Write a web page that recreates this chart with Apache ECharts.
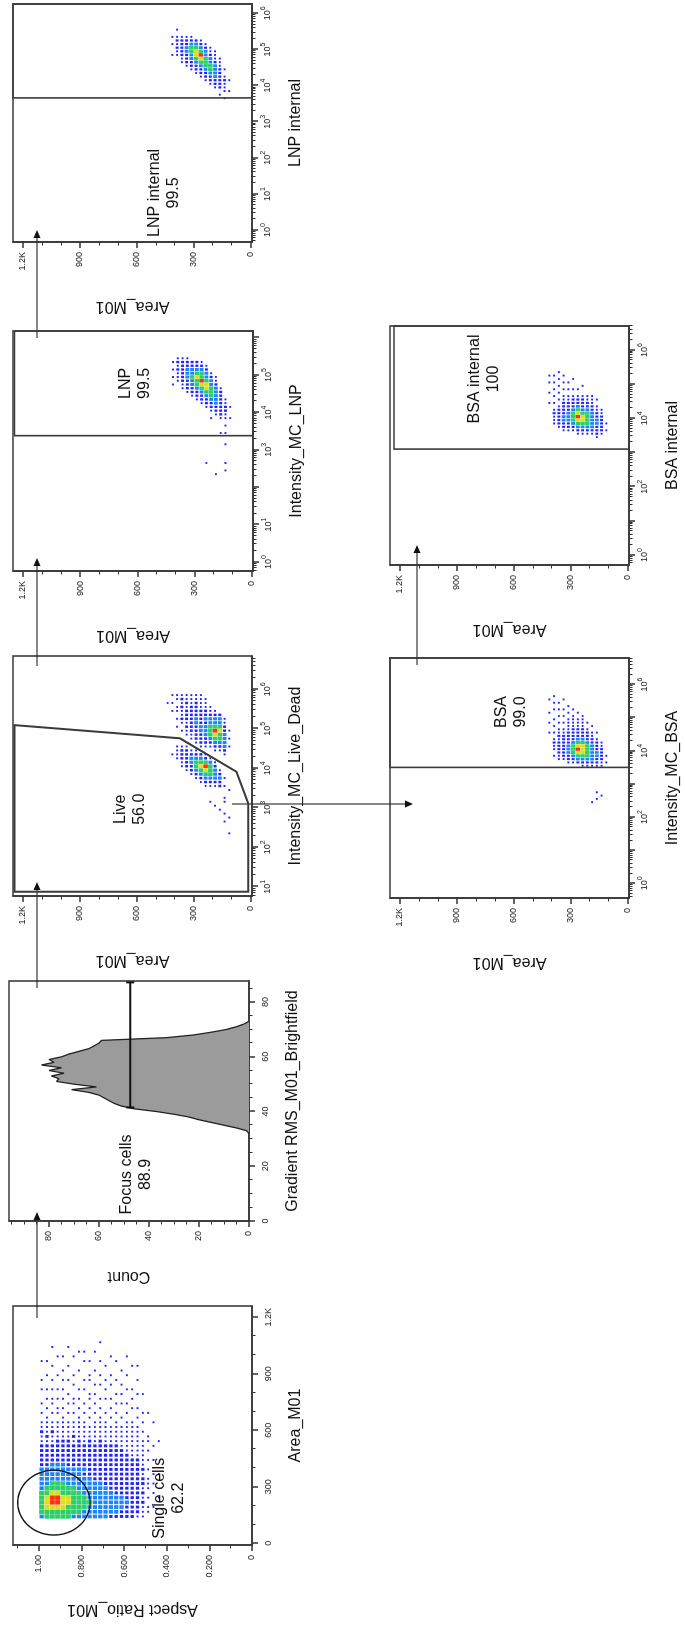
<!DOCTYPE html>
<html>
<head>
<meta charset="utf-8">
<title>Gating strategy</title>
<script src="https://cdn.jsdelivr.net/npm/echarts@6.0.0/dist/echarts.min.js"></script>
<style>
html, body { margin:0; padding:0; background:#ffffff; }
body { width:685px; height:1627px; overflow:hidden; position:relative; }
#chart { position:absolute; left:0; top:0; width:1627px; height:685px; transform-origin:0 0; transform:translate(0px,1627px) rotate(-90deg); background:#ffffff; }
</style>
</head>
<body>
<div id="chart"></div>
<script>
const FONT = '"Liberation Sans", Arial, Helvetica, sans-serif';

// ---------------- axis tick values ----------------
const areaLabels = [0, 300, 600, 900, 1200];
const areaMinor = [100, 200, 400, 500, 700, 800, 1000, 1100];
const aspectLabels = [0, 0.2, 0.4, 0.6, 0.8, 1.0];
const aspectMinor = [0.1, 0.3, 0.5, 0.7, 0.9, 1.1];
const gradLabels = [0, 20, 40, 60, 80];
const gradMinor = [5, 10, 15, 25, 30, 35, 45, 50, 55, 65, 70, 75, 85];
const countLabels = [0, 20, 40, 60, 80];
const countMinor = [5, 10, 15, 25, 30, 35, 45, 50, 55, 65, 70, 75, 85, 90, 95];
const liveDecades = [1, 2, 3, 4, 5, 6];
const liveDecadeLabels = [1, 2, 3, 4, 5, 6];
const lnpDecades = [0, 1, 2, 3, 4, 5, 6];
const lnpDecadeLabels = [0, 1, 3, 4, 5];
const lnpIntDecades = [0, 1, 2, 3, 4, 5, 6];
const lnpIntDecadeLabels = [0, 1, 2, 3, 4, 5, 6];
const bsaDecades = [0, 1, 2, 3, 4, 5, 6];
const bsaDecadeLabels = [0, 2, 4, 6];
const bsaIntDecades = [0, 1, 2, 3, 4, 5, 6];
const bsaIntDecadeLabels = [0, 2, 4, 6];

// ---------------- histogram (Gradient RMS_M01_Brightfield) ----------------
const gradientX = [32,33,34,35,36,37,38,39,40,41,42,43,44,45,46,47,48,49,50,51,52,53,54,55,56,57,58,59,60,61,62,63,64,65,66,67,68,69,70,71,72,73];
const gradientCount = [0,1,5,10,15,20,24,30,37,46,51,54,56,58,60,64,71,61,70,77,76,79,74,80,75,83,78,80,75,72,68,64,62,60,59,33,22,15,9,5,2,0];

// ---------------- gates (data coordinates) ----------------
const singleCellsCenter = [216, 0.93];
const singleCellsRadius = [172, 0.17];
const focusGateX = [41.5, 87.2];
const focusGateCount = 47.5;
const liveGate = [[0.873,1244],[5.09,1244],[4.757,373],[3.91,75],[3.11,12.7],[0.873,12.7]];
const lnpGate = [[3.38,-7],[6.18,-7],[6.18,1244],[3.38,1244]];
const lnpIntGate = [[3.66,-7],[6.26,-7],[6.26,1252],[3.66,1252]];
const bsaGate = [[3.50,-7],[6.80,-7],[6.80,1252],[3.50,1252]];
const bsaIntGate = [[3.10,-7],[6.70,-7],[6.70,1231],[3.10,1231]];

// gate labels
const gateLabelText = ['Single cells\n62.2','Focus cells\n88.9','Live\n56.0','LNP\n99.5','LNP internal\n99.5','BSA\n99.0','BSA internal\n100'];
const gateLabelX = [239, 17, 2.96, 4.78, 1.03, 5.17, 5.15];
const gateLabelY = [0.39, 45, 637, 610, 457, 615, 755];

// ---------------- density (levels 1..6) ----------------
// Single cells: columns Area 130..1130 step 25, rows Aspect 1.0 down step 0.025
const densSingle = [
"3444443333 3222221121 1.1.1..1.1 ...1......",
"4455544333 3222221211 11.1.1.1.. 1..1......",
"4456654433 3322221121 1.1.11.1.1 ..1...1...",
"4456654433 3322222111 1.11.1.1.. 1...1.....",
"4455544433 3322222111 11.1.1.1.1 .1..1.....",
"4445544333 3222222111 1.1.1.1..1 ..1...1...",
"3444444333 3222221211 1.1.11..1. 1...1.....",
"3444443333 3222222111 11.1.1.1.. .1...1....",
"3344433332 3222221111 1.1.1..1.1 ...1.1....",
"3334333332 2222222111 .1.1.11..1 1..1......",
"3333333322 2222221111 1.1.1.1.1. .1...1....",
"3333333322 2222222111 11.1.1..1. 1..1...1..",
"3333333222 2222221111 1.1..1.1.1 ..1.......",
"2333332222 2222221111 .1.1.1..1. 1...1.....",
"2333322222 2222221111 1.1.1.1..1 ...1......",
"2233322222 2222211111 .1..1.1.1. .1........",
"2223222222 2222111111 1.1.1..1.. 1...1.....",
"2222222222 2221111111 1..1.1.1.. ..1.......",
"1222222222 2221111111 .1.1..1..1 ..1.......",
"1112121221 2111111.1. 1.1...1... ..........",
".11.1.111. 1.1.1.11.. ..1....... ..........",
"..1..1.1.1 ..1..1.... 1......... ..........",
"....1....1 ......1... .......... .........."
];
// Live/Dead: columns log10 2.2..5.9 step 0.1, rows Area 450 down step 25
const densLive = [
".......... .......... .......... ....1..",
".......... .......... .1........ ..1.1.1",
".......... .......... 1111....1. 1.11.11",
".......... ........11 2221...1.1 2112121",
".......... .......122 2221..1121 2221211",
".......... ......1223 321..11222 2222111",
".......... .....12344 321.122223 3222211",
".......... ....123454 32.1222332 2221111",
".......... ...1234564 21.1223332 322111.",
".........1 ...1234443 1..1234443 3211...",
"........1. ...1233321 ..12345643 321....",
".......1.. ...22321.. ..12344543 32.....",
"....1.1..1 1..1.1.... .123333221 1......",
".1...1.... ..1....... ...1.1.1.. ......."
];
// LNP / LNP internal / BSA / BSA internal: columns log10 2.0..6.0 step 0.1, rows Area 450 down step 25
const densLNP = [
".......... .......... .......... ..........",
".......... .......... .......1.1 .1.1......",
".......... .......... ........11 12121.....",
".......... .......... ......1122 22221.....",
".......... .......... .....12223 33221.....",
".......... .......... ....122334 3322......",
".......... .......... ...1223445 4322......",
".......... .......... ..12234564 4321......",
"......1... .......... .122345543 321.......",
".......... ........1. 1223444332 1.........",
"...1...... .........1 2233333211 ..........",
".......... ....1...12 2222221... ..........",
"....1.1... .1..1.1.11 2211...... ..........",
".......... ........1. .1........ .........."
];
const densLNPint = [
".......... .......... .......... ..........",
".......... .......... ........1. .1.1......",
".......... .......... ........11 2121.1....",
".......... .......... ......1122 2221......",
".......... .......... .....12223 3221......",
".......... .......... ....122334 4321......",
".......... .......... ...1223455 432.......",
".......... .......... ..12234564 321.......",
".......... .......... .122344433 21........",
".......... .......... 1223443321 1.........",
".......... .........1 2233332111 ..........",
".......... .......1.2 22222111.. ..........",
".......... ......1.11 121.1..... ..........",
".......... ........1. .1........ .........."
];
const densBSA = [
".......... .......... .......... ..........",
".......... .......... .....1..1. .1...1....",
".......... ........1. 1121.1.1.1 ..1.1.1...",
".......... .......112 2221211.1. 1.1.1.....",
".......... .......122 2222211.1. 1.1..1....",
".......... ......1223 3322221111 .1.1......",
".......... ......1234 4432222111 1.1.......",
".......... ......2345 6543222111 .1........",
".......... .....12345 5543222111 1.........",
".......... .....12344 4432221.1. ..........",
"....1..... .....12333 332211.1.. ..........",
".....1.1.. .....12233 2221.1.... ..........",
"......1... .....11222 211....... ..........",
".......... ......1.1. .......... .........."
];
const densBSAint = [
".......... .......... .......... ..........",
".......... .......... ....1..1.. 1.1.......",
".......... ........11 121.1.1.1. 1.1.......",
".......... .......122 2221.1.1.1 .1.1......",
".......... ......1223 3222211.1. 1.1.......",
".......... ......1223 3322211.1. 1.........",
".......... ......1234 4432221.1. .1........",
".......... .....12345 6543221.1. ..........",
".......... .....12345 5432221..1 ..........",
".......... .....12344 4432211... ..........",
".......... .....12333 3322111... ..........",
".......... ....122233 2211.1.... ..........",
".......... .....12222 211....... ..........",
".......... ......1.1. .......... .........."
];

// ---------------- layout (landscape frame, then rotated -90deg) ----------------
const levelColor = {1:'#2020ff', 2:'#2222ff', 3:'#1c84ff', 4:'#2ccf6a', 5:'#dede20', 6:'#ff3010'};

const grid = [], xAxis = [], yAxis = [], series = [];

function fmtArea(v){ return v === 1200 ? '1.2K' : String(v); }
function fmtAspect(v){ if (v === 0) return '0'; if (Math.abs(v-1) < 1e-9) return '1.00'; return v.toFixed(3); }
function fmtLog(v){ return '{b|10}{s|' + Math.round(v) + '}'; }
const logRich = {
  b: { fontFamily: FONT, fontSize: 9, color: '#222', verticalAlign: 'bottom' },
  s: { fontFamily: FONT, fontSize: 7, color: '#222', verticalAlign: 'bottom', padding: [0,0,5,0] }
};
function logMinor(decades, min, max){
  const out = [];
  for (let n = Math.floor(min) - 1; n <= Math.ceil(max); n++) {
    for (let k = 2; k <= 9; k++) { const v = n + Math.log10(k); if (v > min && v < max) out.push(v); }
  }
  return out;
}

function mainAxis(gi, pos, a){
  return {
    gridIndex: gi, type: 'value', position: pos, min: a.min, max: a.max,
    name: a.name, nameLocation: 'middle', nameGap: a.nameGap,
    nameTextStyle: { fontFamily: FONT, fontSize: 16, color: '#111' },
    axisLine: { show: true, onZero: false, lineStyle: { color: '#333', width: 1.5 } },
    axisTick: { show: true, inside: false, length: 6, customValues: a.major, lineStyle: { color: '#333', width: 1.5 } },
    axisLabel: { show: true, customValues: a.labels, formatter: a.fmt, fontFamily: FONT, fontSize: 9, color: '#222', margin: a.margin, rich: a.rich || {}, hideOverlap: false },
    splitLine: { show: false }, minorTick: { show: false }, minorSplitLine: { show: false }
  };
}
function minorAxis(gi, pos, a){
  return {
    gridIndex: gi, type: 'value', position: pos, min: a.min, max: a.max,
    axisLine: { show: false, onZero: false },
    axisTick: { show: true, inside: false, length: 3.5, customValues: a.minor, lineStyle: { color: '#333', width: 1 } },
    axisLabel: { show: false }, splitLine: { show: false }
  };
}
function addPanel(p){
  const gi = grid.length;
  grid.push({ left: p.box[0], top: p.box[1], width: p.box[2], height: p.box[3], show: true, borderColor: '#3c3c3c', borderWidth: 1.6 });
  const xi = xAxis.length, yi = yAxis.length;
  xAxis.push(mainAxis(gi, 'bottom', p.x)); xAxis.push(minorAxis(gi, 'bottom', p.x));
  yAxis.push(mainAxis(gi, 'left', p.y)); yAxis.push(minorAxis(gi, 'left', p.y));
  p.xi = xi; p.yi = yi;
  return p;
}
function areaAxis(){
  return { min: -7, max: 1252, name: 'Area_M01', nameGap: 56, major: areaLabels, labels: areaLabels, minor: areaMinor, fmt: fmtArea, margin: 10 };
}
function logAxis(name, min, max, decades, labels){
  return { min, max, name, nameGap: 36, major: decades, labels, minor: logMinor(decades, min, max), fmt: fmtLog, rich: logRich, margin: 8 };
}

const pSingle = addPanel({ box: [82, 13, 239, 239],
  x: { min: -9, max: 1260, name: 'Area_M01', nameGap: 36, major: areaLabels, labels: areaLabels, minor: areaMinor, fmt: fmtArea, margin: 12 },
  y: { min: 0, max: 1.122, name: 'Aspect Ratio_M01', nameGap: 56, major: aspectLabels, labels: aspectLabels, minor: aspectMinor, fmt: fmtAspect, margin: 10 } });
const pFocus = addPanel({ box: [406, 9, 240, 240],
  x: { min: 0, max: 87.7, name: 'Gradient RMS_M01_Brightfield', nameGap: 36, major: gradLabels, labels: gradLabels, minor: gradMinor, fmt: v => String(v), margin: 12 },
  y: { min: 0, max: 96, name: 'Count', nameGap: 47, major: countLabels, labels: countLabels, minor: countMinor, fmt: v => String(v), margin: 10 } });
const pLive = addPanel({ box: [731, 13, 240, 239], x: logAxis('Intensity_MC_Live_Dead', 0.765, 6.84, liveDecades, liveDecadeLabels), y: areaAxis() });
const pLNP = addPanel({ box: [1056, 13, 240, 240], x: logAxis('Intensity_MC_LNP', -0.24, 6.18, lnpDecades, lnpDecadeLabels), y: areaAxis() });
const pLNPint = addPanel({ box: [1385, 13, 238, 239], x: logAxis('LNP internal', -0.33, 6.26, lnpIntDecades, lnpIntDecadeLabels), y: areaAxis() });
const pBSA = addPanel({ box: [729, 390, 240, 239], x: logAxis('Intensity_MC_BSA', -0.44, 6.8, bsaDecades, bsaDecadeLabels), y: areaAxis() });
const pBSAint = addPanel({ box: [1062, 390, 239, 239], x: logAxis('BSA internal', -0.29, 6.7, bsaIntDecades, bsaIntDecadeLabels), y: areaAxis() });

// ---------- density dot series ----------
function addDensity(p, rows, x0, dx, yTop, dy){
  const cw = dx * p.box[2] / (p.x.max - p.x.min);
  const ch = dy * p.box[3] / (p.y.max - p.y.min);
  const byLevel = {};
  rows.forEach((raw, r) => {
    const row = raw.replace(/ /g, '');
    for (let c = 0; c < row.length; c++) {
      const ch0 = row[c]; if (ch0 === '.') continue;
      const lv = +ch0;
      (byLevel[lv] = byLevel[lv] || []).push([x0 + dx * (c + 0.5), yTop - dy * (r + 0.5)]);
    }
  });
  Object.keys(byLevel).forEach(k => {
    const lv = +k;
    const f = lv === 2 ? 0.62 : lv === 3 ? 0.8 : 0.95;
    const size = lv === 1 ? [1.9, 1.9] : [cw * f, ch * f];
    series.push({ type: 'scatter', xAxisIndex: p.xi, yAxisIndex: p.yi, data: byLevel[k], symbol: 'rect', symbolSize: size,
      itemStyle: { color: levelColor[lv], opacity: 1 }, silent: true, z: 2 + lv, animation: false });
  });
}
addDensity(pSingle, densSingle, 130, 25, 1.0, 0.025);
addDensity(pLive, densLive, 2.2, 0.1, 450, 25);
addDensity(pLNP, densLNP, 2.0, 0.1, 450, 25);
addDensity(pLNPint, densLNPint, 2.0, 0.1, 450, 25);
addDensity(pBSA, densBSA, 2.0, 0.1, 450, 25);
addDensity(pBSAint, densBSAint, 2.0, 0.1, 450, 25);

// ---------- histogram ----------
series.push({ type: 'line', xAxisIndex: pFocus.xi, yAxisIndex: pFocus.yi,
  data: gradientX.map((x, i) => [x, gradientCount[i]]), symbol: 'none', smooth: false,
  lineStyle: { color: '#222', width: 1.3 }, areaStyle: { color: '#9b9b9b', opacity: 1 }, silent: true, z: 3, animation: false });

// ---------- gates ----------
function polyGate(p, pts, color, width){
  series.push({ type: 'custom', xAxisIndex: p.xi, yAxisIndex: p.yi, data: [[0, 0]], silent: true, z: 10, animation: false,
    renderItem: (params, api) => ({ type: 'polygon', shape: { points: pts.map(q => api.coord(q)) },
      style: { fill: 'none', stroke: color, lineWidth: width } }) });
}
const ellipsePts = [];
for (let k = 0; k < 90; k++) {
  const t = 2 * Math.PI * k / 90;
  ellipsePts.push([singleCellsCenter[0] + singleCellsRadius[0] * Math.cos(t), singleCellsCenter[1] + singleCellsRadius[1] * Math.sin(t)]);
}
polyGate(pSingle, ellipsePts, '#151515', 1.4);
polyGate(pLive, liveGate, '#3a3a3a', 2);
polyGate(pLNP, lnpGate, '#3a3a3a', 1.6);
polyGate(pLNPint, lnpIntGate, '#3a3a3a', 1.6);
polyGate(pBSA, bsaGate, '#3a3a3a', 1.6);
polyGate(pBSAint, bsaIntGate, '#3a3a3a', 1.6);

series.push({ type: 'custom', xAxisIndex: pFocus.xi, yAxisIndex: pFocus.yi, data: [[0, 0]], silent: true, z: 10, animation: false,
  renderItem: (params, api) => {
    const a = api.coord([focusGateX[0], focusGateCount]);
    const b = api.coord([focusGateX[1], focusGateCount]);
    const st = { stroke: '#111', lineWidth: 2 };
    return { type: 'group', children: [
      { type: 'line', shape: { x1: a[0], y1: a[1], x2: b[0], y2: b[1] }, style: st },
      { type: 'line', shape: { x1: a[0], y1: a[1] - 4, x2: a[0], y2: a[1] + 4 }, style: st },
      { type: 'line', shape: { x1: b[0], y1: b[1] - 4, x2: b[0], y2: b[1] + 4 }, style: st }
    ] };
  } });

// ---------- gate labels ----------
[pSingle, pFocus, pLive, pLNP, pLNPint, pBSA, pBSAint].forEach((p, i) => {
  series.push({ type: 'scatter', xAxisIndex: p.xi, yAxisIndex: p.yi, silent: true, z: 12, animation: false,
    data: [{ value: [gateLabelX[i], gateLabelY[i]], name: gateLabelText[i] }], symbolSize: 1,
    itemStyle: { color: 'rgba(255,255,255,0)' },
    label: { show: true, position: 'inside', formatter: '{b}', fontFamily: FONT, fontSize: 16, lineHeight: 19, color: '#111', align: 'center', verticalAlign: 'middle', opacity: 1 } });
});

// ---------- connector arrows (landscape pixel layout) ----------
const arrowPaths = [[309,37,415,37],[639,37,745,37],[961,37,1069,37],[1289,37,1397,37],[823,232,823,413],[962,417,1082,417]];
const graphic = [];
arrowPaths.forEach(a => {
  const dx = a[2] - a[0], dy = a[3] - a[1], L = Math.hypot(dx, dy), ux = dx / L, uy = dy / L;
  const hl = 8, hw = 3.6;
  const bx = a[2] - ux * hl, by = a[3] - uy * hl;
  graphic.push({ type: 'line', shape: { x1: a[0], y1: a[1], x2: bx, y2: by }, style: { stroke: '#111', lineWidth: 1 }, silent: true });
  graphic.push({ type: 'polygon', shape: { points: [[a[2], a[3]], [bx - uy * hw, by + ux * hw], [bx + uy * hw, by - ux * hw]] }, style: { fill: '#111' }, silent: true });
});

const chart = echarts.init(document.getElementById('chart'), null, { renderer: 'canvas', width: 1627, height: 685, devicePixelRatio: 1 });
chart.setOption({ animation: false, backgroundColor: '#ffffff', textStyle: { fontFamily: FONT }, grid, xAxis, yAxis, series, graphic });
</script>
</body>
</html>
